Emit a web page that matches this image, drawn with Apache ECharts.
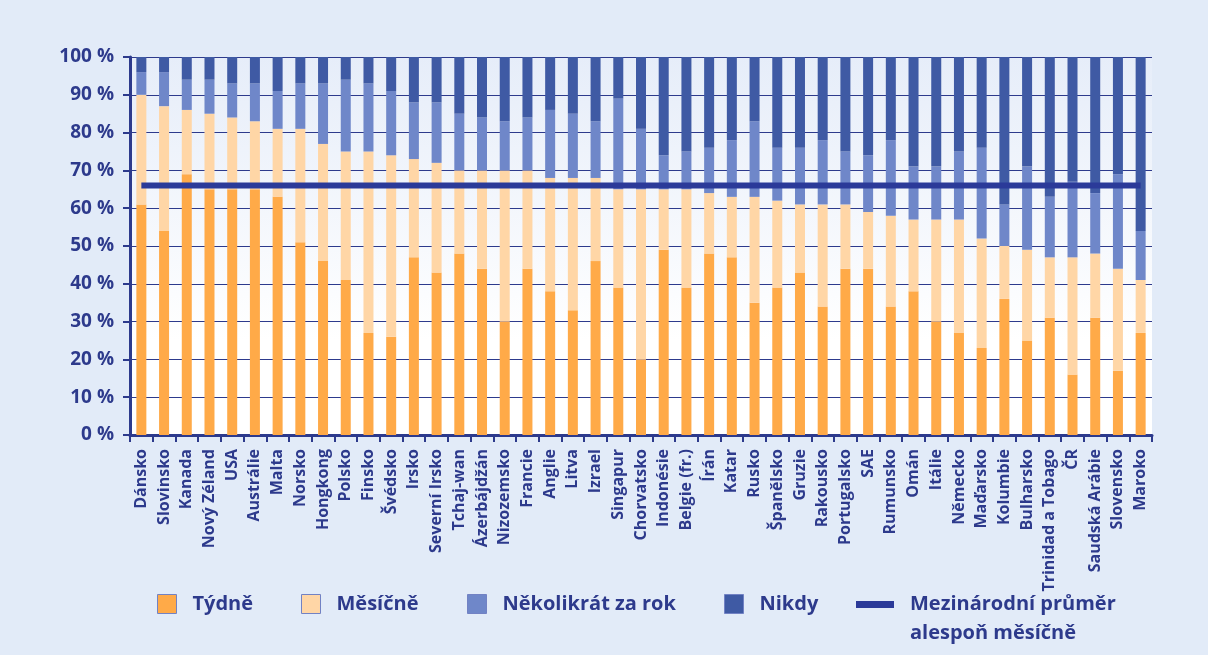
<!DOCTYPE html>
<html>
<head>
<meta charset="utf-8">
<script src="https://cdn.jsdelivr.net/npm/echarts@6/dist/echarts.min.js"></script>
<style>
  html, body { margin: 0; padding: 0; background: #e2ebf8; }
  #chart { width: 1208px; height: 655px; }
</style>
</head>
<body>
<div id="chart"></div>
<script>
// data (percent of pupils)
var countries = ['Dánsko', 'Slovinsko', 'Kanada', 'Nový Zéland', 'USA', 'Austrálie', 'Malta', 'Norsko', 'Hongkong', 'Polsko',
  'Finsko', 'Švédsko', 'Irsko', 'Severní Irsko', 'Tchaj-wan', 'Ázerbájdžán', 'Nizozemsko', 'Francie', 'Anglie', 'Litva',
  'Izrael', 'Singapur', 'Chorvatsko', 'Indonésie', 'Belgie (fr.)', 'Írán', 'Katar', 'Rusko', 'Španělsko', 'Gruzie',
  'Rakousko', 'Portugalsko', 'SAE', 'Rumunsko', 'Omán', 'Itálie', 'Německo', 'Maďarsko', 'Kolumbie', 'Bulharsko',
  'Trinidad a Tobago', 'ČR', 'Saudská Arábie', 'Slovensko', 'Maroko'];
var weekly = [61, 54, 69, 65, 65, 65, 63, 51, 46, 41, 27, 26, 47, 43, 48, 44, 30, 44, 38, 33, 46, 39, 20, 49, 39, 48, 47, 35, 39, 43, 34, 44, 44, 34, 38, 30, 27, 23, 36, 25, 31, 16, 31, 17, 27];
var monthly = [29, 33, 17, 20, 19, 18, 18, 30, 31, 34, 48, 48, 26, 29, 22, 26, 40, 26, 30, 35, 22, 26, 45, 16, 26, 16, 16, 28, 23, 18, 27, 17, 15, 24, 19, 27, 30, 29, 14, 24, 16, 31, 17, 27, 14];
var fewTimesYear = [6, 9, 8, 9, 9, 10, 10, 12, 16, 19, 18, 17, 15, 16, 15, 14, 13, 14, 18, 17, 15, 24, 16, 9, 10, 12, 15, 20, 14, 15, 17, 14, 15, 20, 14, 14, 18, 24, 11, 22, 16, 20, 16, 25, 13];
var never = [4, 4, 6, 6, 7, 7, 9, 7, 7, 6, 7, 9, 12, 12, 15, 16, 17, 16, 14, 15, 17, 11, 19, 26, 25, 24, 22, 17, 24, 24, 22, 25, 26, 22, 29, 29, 25, 24, 39, 29, 37, 33, 36, 31, 46];
var intlAverage = 66; // mezinárodní průměr alespoň měsíčně
var yTicks = [0, 100, 10]; // min, max, interval

var navy = '#2d3a8c';
var font = "'Open Sans', 'Noto Sans', sans-serif";

var chart = echarts.init(document.getElementById('chart'), null, { renderer: 'canvas' });

function legendAt(name, left, extra) {
  var lg = {
    data: [name],
    left: left,
    top: 594,
    padding: 0,
    icon: 'rect',
    itemWidth: 19,
    itemHeight: 19,
    itemStyle: { borderColor: '#7282c4', borderWidth: 1 },
    textStyle: {
      color: navy,
      fontSize: 20,
      fontWeight: 'bold',
      fontFamily: font,
      padding: [0, 0, 0, 11]
    }
  };
  return Object.assign(lg, extra || {});
}

function barSeries(name, values, color) {
  return {
    name: name,
    type: 'bar',
    stack: 'total',
    barWidth: 10,
    data: values,
    itemStyle: { color: color },
    emphasis: { disabled: true }
  };
}

chart.setOption({
  backgroundColor: '#e2ebf8',
  animation: false,
  grid: {
    left: 130,
    right: 56,
    top: 57,
    bottom: 220,
    show: true,
    borderWidth: 0,
    backgroundColor: new echarts.graphic.LinearGradient(0, 0, 0, 1, [
      { offset: 0, color: '#e6edf9' },
      { offset: 0.75, color: '#ffffff' },
      { offset: 1, color: '#ffffff' }
    ])
  },
  legend: [
    legendAt('Týdně', 157),
    legendAt('Měsíčně', 301),
    legendAt('Několikrát za rok', 467),
    legendAt('Nikdy', 724),
    // two-line label, icon lined up with the first line
    legendAt('Mezinárodní průměr alespoň měsíčně', 856, {
      top: 590,
      icon: 'path://M0,0L38,0L38,7L0,7Z M0,36L38,36',
      itemWidth: 38,
      itemHeight: 36,
      itemStyle: { borderWidth: 0 },
      formatter: function() {
        return 'Mezinárodní průměr\nalespoň měsíčně';
      },
      textStyle: {
        color: navy,
        fontSize: 20,
        fontWeight: 'bold',
        fontFamily: font,
        lineHeight: 29,
        padding: [0, 0, 0, 11]
      }
    })
  ],
  xAxis: {
    type: 'category',
    data: countries,
    axisLine: { lineStyle: { color: navy, width: 3 } },
    axisTick: { show: true, length: 7, lineStyle: { color: navy, width: 2 } },
    axisLabel: {
      rotate: 90,
      interval: 0,
      margin: 14,
      color: navy,
      fontSize: 16,
      fontWeight: 'bold',
      fontFamily: font
    },
    splitLine: { show: false }
  },
  yAxis: {
    type: 'value',
    min: yTicks[0],
    max: yTicks[1],
    interval: yTicks[2],
    axisLine: { show: true, lineStyle: { color: navy, width: 3 } },
    axisTick: { show: true, length: 7, lineStyle: { color: navy, width: 2 } },
    axisLabel: {
      formatter: '{value} %',
      margin: 16,
      color: navy,
      fontSize: 19,
      fontWeight: 'bold',
      fontFamily: font
    },
    splitLine: { lineStyle: { color: navy, width: 1 } }
  },
  series: [
    barSeries('Týdně', weekly, '#ffaa48'),
    barSeries('Měsíčně', monthly, '#ffd6a6'),
    barSeries('Několikrát za rok', fewTimesYear, '#6f87c9'),
    barSeries('Nikdy', never, '#3f5aa4'),
    {
      name: 'Mezinárodní průměr alespoň měsíčně',
      type: 'line',
      data: countries.map(function() { return intlAverage; }),
      symbol: 'none',
      z: 5,
      lineStyle: { color: '#2b3a99', width: 6 },
      itemStyle: { color: '#2b3a99' },
      emphasis: { disabled: true }
    }
  ]
});
</script>
</body>
</html>
